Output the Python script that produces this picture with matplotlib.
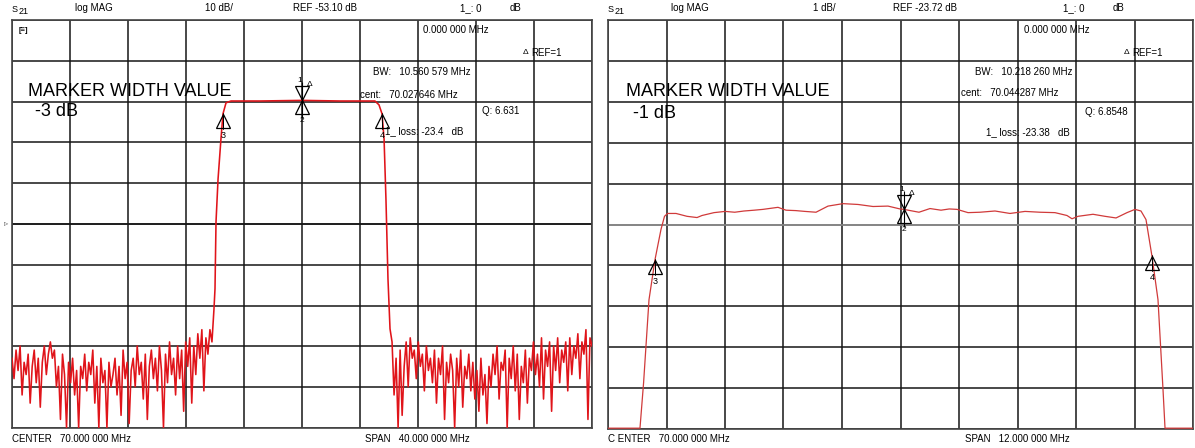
import matplotlib
matplotlib.use("Agg")
import matplotlib.pyplot as plt
import numpy as np
from matplotlib.transforms import offset_copy

plt.rcParams['font.family'] = ['Liberation Sans', 'DejaVu Sans']

W, H = 1195, 448

# ---- left sweep: center 70 MHz, span 40 MHz, 10 dB/div, ref -53.10 dB
left_ref = -53.10
left_div = 10.0
left_start, left_stop = 50.0, 90.0

left_noise_lo = [
    -86, -91, -84, -89, -83, -95, -87, -90, -85, -97,
    -88, -84, -92, -86, -98, -87, -83, -90, -85, -82,
    -86, -84, -93, -88, -101, -85, -90, -103, -87, -92,
    -86, -95, -89, -103, -88, -91, -85, -94, -87, -90,
    -84, -97, -88, -103, -86, -92, -89, -103, -87, -93,
    -90, -86, -95, -88, -100, -84, -91, -87, -102, -89,
    -86, -93, -83, -90, -87, -96, -85, -101, -88, -84,
    -91, -86, -94, -83, -89, -103, -85, -92, -82, -90,
    -86, -95, -83, -91, -84, -99, -82, -88, -81, -97,
    -83, -90, -80, -86, -79, -94, -81, -85, -79, -82,
]
left_noise_lo_span = (50.0, 63.79)

left_pass_f = [63.93, 64.00, 64.07, 64.21, 64.41, 64.55, 64.76, 65.10, 67.10,
               70.00, 72.62, 75.03, 75.31, 75.52, 75.66, 75.79, 75.93, 76.07]
left_pass_db = [-73.9, -69.0, -52.6, -42.1, -32.3, -26.1, -23.4, -22.95, -22.95,
                -22.8, -22.95, -22.95, -23.9, -26.1, -32.3, -47.0, -66.6, -78.8]

left_noise_hi = [
    -82, -95, -86, -103, -84, -100, -88, -82, -93, -81,
    -86, -84, -91, -82, -88, -85, -94, -83, -89, -86,
    -92, -84, -97, -86, -90, -83, -101, -87, -92, -85,
    -89, -103, -86, -93, -84, -98, -88, -91, -85, -94,
    -87, -96, -89, -99, -86, -95, -90, -102, -88, -93,
    -85, -90, -83, -96, -87, -89, -84, -103, -86, -91,
    -83, -94, -85, -101, -88, -92, -84, -97, -86, -89,
    -82, -90, -85, -93, -81, -96, -84, -88, -82, -99,
    -83, -89, -81, -92, -84, -87, -82, -94, -81, -90,
    -83, -86, -80, -91, -82, -85, -79, -101, -81, -83,
]
left_noise_hi_span = (76.21, 90.0)

left_markers = {"3": 64.55, "4": 75.52}
left_center_marker = 70.0

# ---- right sweep: center 70 MHz, span 12 MHz, 1 dB/div, ref -23.72 dB
right_ref = -23.72
right_div = 1.0
right_start, right_stop = 64.0, 76.0

right_f = [64.0, 64.656, 64.730, 64.841, 64.964, 65.087, 65.159, 65.221, 65.395,
           65.621, 65.826, 65.928, 66.174, 66.400, 66.600, 66.790, 67.000, 67.180,
           67.487, 67.651, 67.850, 68.041, 68.267, 68.513, 68.821, 69.128, 69.436,
           69.744, 69.990, 70.072, 70.200, 70.379, 70.605, 70.831, 71.000, 71.159,
           71.385, 71.631, 71.938, 72.246, 72.554, 72.862, 73.169, 73.415, 73.518,
           73.641, 73.949, 74.195, 74.421, 74.646, 74.810, 74.933, 75.036, 75.159,
           75.282, 75.385, 75.426, 76.0]
right_db = [-28.70, -28.70, -27.59, -25.56, -24.58, -23.84, -23.52, -23.45, -23.45,
            -23.52, -23.55, -23.50, -23.43, -23.40, -23.42, -23.39, -23.37, -23.35,
            -23.30, -23.37, -23.38, -23.40, -23.42, -23.27, -23.21, -23.23, -23.28,
            -23.27, -23.34, -23.35, -23.38, -23.42, -23.33, -23.37, -23.34, -23.35,
            -23.43, -23.42, -23.39, -23.45, -23.40, -23.42, -23.43, -23.50, -23.58,
            -23.52, -23.47, -23.52, -23.56, -23.43, -23.35, -23.39, -23.60, -24.50,
            -25.56, -27.76, -28.70, -28.70]

right_markers = {"3": 64.964, "4": 75.159}
right_center_marker = 70.072


def fx(px):
    return px / W


def fy(py):
    return 1 - py / H


def setup_panel(ax, start, stop, ref, div, ref_line_color):
    ax.set_xlim(start, stop)
    ax.set_ylim(ref - 5 * div, ref + 5 * div)
    ax.set_xticks(np.linspace(start, stop, 11))
    ax.set_yticks(np.linspace(ref - 5 * div, ref + 5 * div, 11))
    ax.tick_params(length=0, labelbottom=False, labelleft=False)
    ax.grid(True, color="#161616", lw=1.1)
    for s in ax.spines.values():
        s.set_color("#444444")
        s.set_linewidth(1.2)
    ax.axhline(ref, color=ref_line_color, lw=1.1, zorder=1)
    ax.set_axisbelow(True)


def draw_markers(fig, ax, freqs, dbs, side_markers, center_f):
    up = offset_copy(ax.transData, fig=fig, x=0, y=-7, units="dots")
    down = offset_copy(ax.transData, fig=fig, x=0, y=7, units="dots")
    lab = offset_copy(ax.transData, fig=fig, x=0, y=-17, units="dots")
    for name, f in side_markers.items():
        v = np.interp(f, freqs, dbs)
        ax.plot([f], [v], marker="^", ms=10, mfc="none", mec="black", mew=0.9,
                transform=up, zorder=5)
        ax.plot([f, f], [v, v], marker="|", ms=12, mec="black", mew=0.7,
                transform=up, zorder=5)
        ax.text(f, v, name, transform=lab, ha="center", va="top", fontsize=6.5)
    v = np.interp(center_f, freqs, dbs)
    ax.plot([center_f], [v], marker="v", ms=10, mfc="none", mec="black", mew=0.9,
            transform=down, zorder=5)
    ax.plot([center_f], [v], marker="^", ms=10, mfc="none", mec="black", mew=0.9,
            transform=up, zorder=5)
    ax.plot([center_f], [v], marker="|", ms=26, mec="black", mew=0.8, zorder=5)
    t1 = offset_copy(ax.transData, fig=fig, x=-2, y=16, units="dots")
    ax.text(center_f, v, "1", transform=t1, ha="center", va="bottom", fontsize=6)
    t2 = offset_copy(ax.transData, fig=fig, x=8, y=12, units="dots")
    ax.text(center_f, v, "\u0394", transform=t2, ha="center", va="bottom", fontsize=6)
    ax.text(center_f, v, "2", transform=lab, ha="center", va="top", fontsize=6)


fig = plt.figure(figsize=(W / 100, H / 100), dpi=100)

# left panel
axl = fig.add_axes([fx(12), fy(428), fx(580), 408 / H])
setup_panel(axl, left_start, left_stop, left_ref, left_div, "#161616")
lo_f = np.linspace(*left_noise_lo_span, len(left_noise_lo))
hi_f = np.linspace(*left_noise_hi_span, len(left_noise_hi))
lf = np.concatenate([lo_f, left_pass_f, hi_f])
ld = np.concatenate([left_noise_lo, left_pass_db, left_noise_hi])
axl.plot(lf, ld, color="#e0141a", lw=1.15, zorder=3)
draw_markers(fig, axl, lf, ld, left_markers, left_center_marker)

# right panel
axr = fig.add_axes([fx(608), fy(429), fx(585), 409 / H])
setup_panel(axr, right_start, right_stop, right_ref, right_div, "#9a9a9a")
axr.plot(right_f, right_db, color="#d03a3a", lw=0.9, zorder=3)
draw_markers(fig, axr, right_f, right_db, right_markers, right_center_marker)

small = 7


def t(px, py, s, size=small, **kw):
    fig.text(fx(px), fy(py), s, fontsize=size, va="center", ha="left", **kw)


for x0 in (12, 608):
    t(x0, 9, "S", size=6.5)
    t(x0 + 7, 12, "21", size=6.5)
    t(x0 + 63, 8, "log MAG")

t(205, 8, "10 dB/")
t(293, 8, "REF -53.10 dB")
t(460, 8, "1_: 0")
t(510, 8, "dB")
t(813, 8, "1 dB/")
t(893, 8, "REF -23.72 dB")
t(1063, 8, "1_: 0")
t(1113, 8, "dB")

# left panel annotations
t(19, 30, "[\u2261]", size=5.5, fontweight="bold")
t(423, 30, "0.000 000 MHz")
t(523, 53, "\u0394", size=6)
t(531, 53, "REF=1")
t(373, 72, "BW:   10.560 579 MHz")
t(28, 91, "MARKER WIDTH VALUE", size=13)
t(360, 95, "cent:   70.027646 MHz")
t(35, 112, "-3 dB", size=13)
t(482, 111, "Q: 6.631")
t(385, 131, "1_ loss: -23.4   dB")
fig.text(fx(4), fy(224), "\u25b9", fontsize=6, va="center", ha="left", color="#555555")

# right panel annotations
t(1024, 30, "0.000 000 MHz")
t(1124, 53, "\u0394", size=6)
t(1132, 53, "REF=1")
t(975, 72, "BW:   10.218 260 MHz")
t(626, 91, "MARKER WIDTH VALUE", size=13)
t(961, 93, "cent:   70.044287 MHz")
t(633, 114, "-1 dB", size=13)
t(1085, 112, "Q: 6.8548")
t(986, 132, "1_ loss: -23.38   dB")

# footers
t(12, 439, "CENTER   70.000 000 MHz")
t(365, 439, "SPAN   40.000 000 MHz")
t(608, 439, "C ENTER   70.000 000 MHz")
t(965, 439, "SPAN   12.000 000 MHz")

fig.savefig("out.png", dpi=100)
